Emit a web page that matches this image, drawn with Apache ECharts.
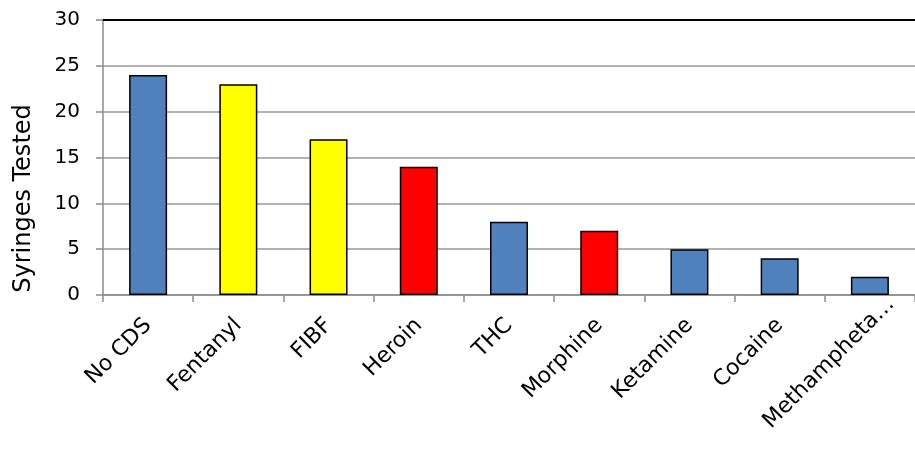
<!DOCTYPE html>
<html>
<head>
<meta charset="utf-8">
<script src="https://cdn.jsdelivr.net/npm/echarts@6/dist/echarts.min.js"></script>
<style>
  html, body { margin: 0; padding: 0; background: #fff; }
  #chart { width: 915px; height: 462px; }
</style>
</head>
<body>
<div id="chart"></div>
<script>
// Syringes tested per substance
const categories = ['No CDS', 'Fentanyl', 'FIBF', 'Heroin', 'THC', 'Morphine', 'Ketamine', 'Cocaine', 'Methampheta…'];
const counts = [24, 23, 17, 14, 8, 7, 5, 4, 2];
const barColors = ['#4F81BD', '#FFFF00', '#FFFF00', '#FF0000', '#4F81BD', '#FF0000', '#4F81BD', '#4F81BD', '#4F81BD'];
const yTicks = { min: 0, max: 30, interval: 5 };

const FONT = '"DejaVu Sans", sans-serif';

// the truncated last label is nudged along and across its slant
const categoryData = categories.map((c, i) =>
  i === categories.length - 1
    ? { value: c, textStyle: { padding: [70, -30, 0, 0] } }
    : c
);

const chart = echarts.init(document.getElementById('chart'));
chart.setOption({
  animation: false,
  grid: { left: 103, top: 20, width: 819, height: 275, containLabel: false },
  xAxis: {
    type: 'category',
    data: categoryData,
    boundaryGap: true,
    axisLine: { lineStyle: { color: '#8c8c8c', width: 1.5 } },
    axisTick: { show: true, alignWithLabel: false, length: 7, lineStyle: { color: '#8c8c8c', width: 1.5 } },
    axisLabel: { rotate: 45, margin: 27, color: '#000', fontSize: 22, fontFamily: FONT, interval: 0 }
  },
  yAxis: {
    type: 'value',
    min: yTicks.min,
    max: yTicks.max,
    interval: yTicks.interval,
    name: 'Syringes Tested',
    nameLocation: 'middle',
    nameGap: 67,
    // the title sits lower than the axis midpoint, so pad its far end
    nameTextStyle: { color: '#000', fontSize: 24, fontFamily: FONT, padding: [0, 82, 0, 0] },
    axisLine: { show: true, lineStyle: { color: '#8c8c8c', width: 1.5 } },
    axisTick: { show: true, length: 7, lineStyle: { color: '#8c8c8c', width: 1.5 } },
    axisLabel: { color: '#000', fontSize: 20, fontFamily: FONT, margin: 23 },
    splitLine: { show: true, lineStyle: { color: '#999', width: 1.5 } }
  },
  series: [{
    type: 'bar',
    data: counts.map((v, i) => ({ value: v, itemStyle: { color: barColors[i] } })),
    barWidth: 38,
    itemStyle: { borderColor: '#000', borderWidth: 1.5 },
    markLine: {
      silent: true,
      symbol: 'none',
      label: { show: false },
      lineStyle: { color: '#000', width: 2, type: 'solid' },
      data: [{ yAxis: yTicks.max }]
    }
  }]
});
</script>
</body>
</html>
